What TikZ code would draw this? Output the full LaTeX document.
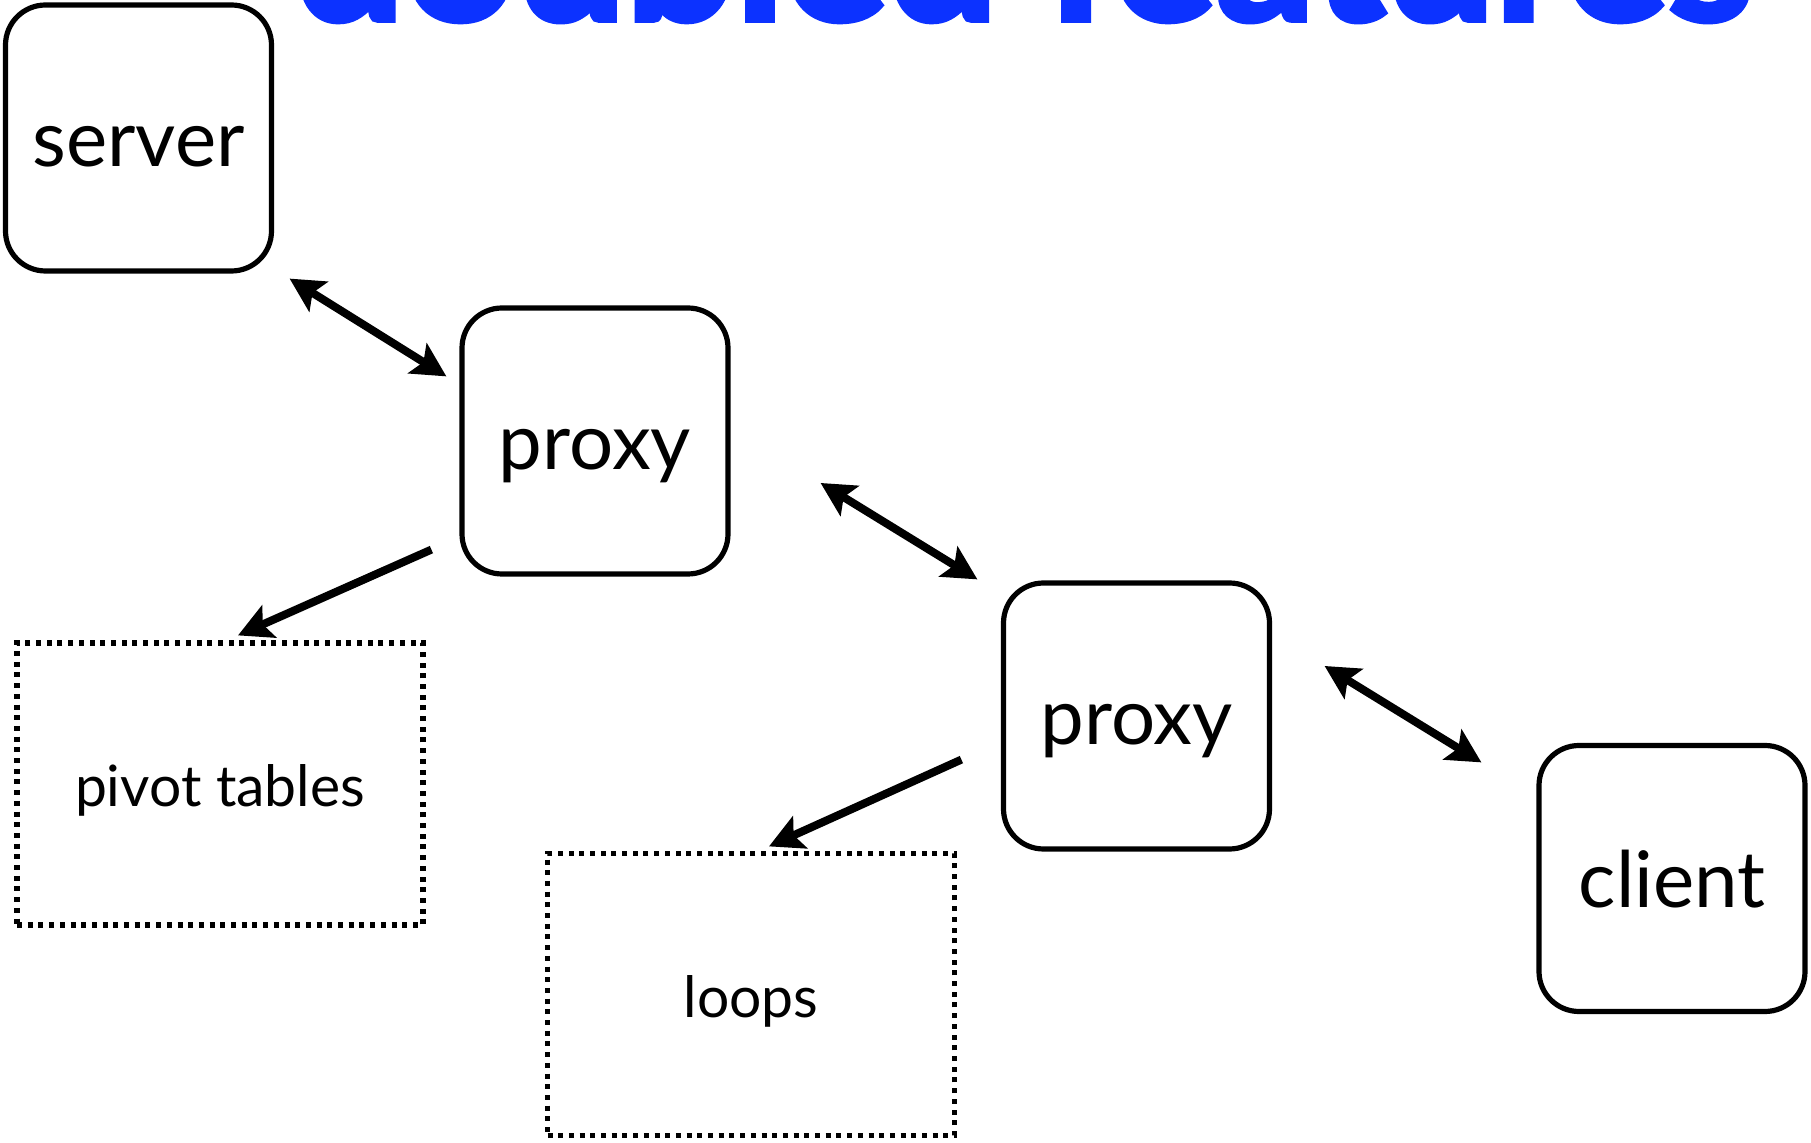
\documentclass[tikz,border=0pt]{standalone}
\usepackage{fontspec}
\setmainfont{Lato}
\newfontfamily\titlefont[FakeBold=3]{Lato}
\usetikzlibrary{arrows.meta}
\definecolor{titleblue}{RGB}{12,50,255}
\begin{document}
\begin{tikzpicture}[x=0.5pt,y=-0.5pt,
  box/.style={draw, line width=2.6pt, rounded corners=20pt,
    minimum width=133pt, minimum height=133pt, inner sep=0pt,
    font=\fontsize{39}{40}\selectfont, text height=29pt, text depth=0pt},
  idea/.style={draw, line width=2.6pt, dash pattern=on 2.5pt off 2.85pt,
    inner sep=0pt, font=\fontsize{28.5}{30}\selectfont,
    text height=23pt, text depth=0pt},
  tip/.tip={Stealth[length=17pt,width=17.5pt,inset=3.5pt]},
  link/.style={line width=4pt, tip-tip},
  feed/.style={line width=4pt, -tip}]
  \useasboundingbox (0,0) rectangle (1811,1143);
  \fill[white] (0,0) rectangle (1811,1143);

  % heading, mostly above the page edge
  \node[anchor=base west, inner sep=0pt, text=titleblue] (title) at (294,20)
    {\resizebox{729pt}{!}{\titlefont\bfseries doubled features}};

  % chain of processes
  \node[box] (server) at (138.5,138)  {server};
  \node[box] (proxyA) at (595,441)    {proxy};
  \node[box] (proxyB) at (1136.5,716) {proxy};
  \node[box] (client) at (1672,878.5) {client};

  % features added by each proxy
  \node[idea, minimum width=203pt, minimum height=141pt] (pivot) at (220,784) {pivot tables};
  \node[idea, minimum width=203.5pt, minimum height=141pt] (loops) at (751,994.5) {loops};

  % two-way links
  \draw[link] ([shift={(15.5,5)}]server.south east) -- ([shift={(-13,71)}]proxyA.north west);
  \draw[link] ([shift={(90,42)}]proxyA.east) -- ([shift={(-23.5,-1)}]proxyB.north west);
  \draw[link] ([shift={(52.5,-50)}]proxyB.east) -- ([shift={(-55,19.5)}]client.north west);

  % feature arrows
  \draw[feed] ([shift={(-28,-27)}]proxyA.south west) -- ([shift={(18,-5)}]pivot.north);
  \draw[feed] ([shift={(-39.5,-92)}]proxyB.south west) -- ([shift={(18,-4.5)}]loops.north);
\end{tikzpicture}
\end{document}
